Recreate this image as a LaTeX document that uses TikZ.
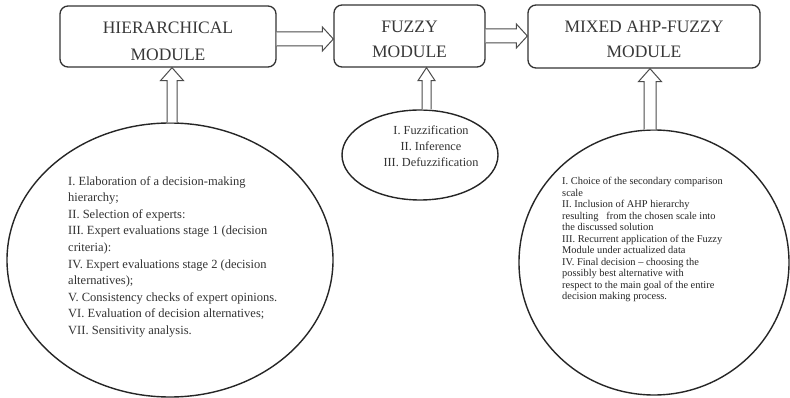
\documentclass[tikz,border=0pt]{standalone}
\usepackage{fontspec}
\setmainfont{Liberation Serif}
\usetikzlibrary{shapes.geometric,calc}
\begin{document}
\begin{tikzpicture}[x=1pt,y=1pt,
  modbox/.style={draw=black!80,line width=1.3pt,rounded corners=8pt,inner sep=0pt},
  modtext/.style={align=center,inner sep=0pt,text=black!78,font=\fontsize{17.5}{25}\selectfont},
  oval/.style={draw=black!85,line width=1.4pt,ellipse,inner sep=0pt},
  barrow/.style={draw=black!70,line width=1pt,fill=white,line join=miter},
  bigtext/.style={align=left,inner sep=0pt,text=black!80,font=\fontsize{12.5}{16.6}\selectfont},
  midtext/.style={align=center,inner sep=0pt,text=black!80,font=\fontsize{12.3}{16}\selectfont},
  smalltext/.style={align=left,inner sep=0pt,text=black!85,font=\fontsize{10.4}{11.5}\selectfont}]
\useasboundingbox (0,0) rectangle (790,-398);
\fill[white] (0,0) rectangle (790,-398);

% module boxes
\node[modbox,minimum width=216pt,minimum height=61pt] (h) at (168,-36.5) {};
\node[modbox,minimum width=151pt,minimum height=62pt] (f) at (409.5,-36) {};
\node[modbox,minimum width=232pt,minimum height=63pt] (m) at (644,-36.5) {};
\node[modtext,anchor=base,font=\fontsize{17.5}{26.5}\selectfont] (hl) at (168,-60.5) {HIERARCHICAL\\MODULE};
\node[modtext,anchor=base] (fl) at (409.5,-57.8) {FUZZY\\MODULE};
\node[modtext,anchor=base] (ml) at (644,-57.8) {MIXED AHP-FUZZY\\MODULE};

% ellipses
\node[oval,minimum width=326pt,minimum height=274pt] (e1) at (170,-260) {};
\node[oval,minimum width=156pt,minimum height=90pt] (e2) at (420,-155) {};
\node[oval,minimum width=270pt,minimum height=265pt] (e3) at (654,-262.5) {};

% ellipse texts (base anchor = baseline of the last line)
\node[bigtext,anchor=base west] (t1) at (68,-334.5) {I. Elaboration of a decision-making\\
hierarchy;\\
II. Selection of experts:\\
III. Expert evaluations stage 1 (decision\\
criteria):\\
IV. Expert evaluations stage 2 (decision\\
alternatives);\\
V. Consistency checks of expert opinions.\\
VI. Evaluation of decision alternatives;\\
VII. Sensitivity analysis.};
\node[midtext,anchor=base] (t2) at (431,-167) {I. Fuzzification\\II. Inference\\III. Defuzzification};
\node[smalltext,anchor=base west] (t3) at (562,-299.5) {I. Choice of the secondary comparison\\
scale\\
II. Inclusion of AHP hierarchy\\
resulting \ \ from the chosen scale into\\
the discussed solution\\
III. Recurrent application of the Fuzzy\\
Module under actualized data\\
IV. Final decision -- choosing the\\
possibly best alternative with\\
respect to the main goal of the entire\\
decision making process.};

% horizontal block arrows
\draw[barrow] let \p1=(h.east), \p2=(f.west) in
  (\x1,-32) -- (\x2-11,-32) -- (\x2-11,-27) -- (\x2,-39) -- (\x2-11,-51) -- (\x2-11,-46) -- (\x1,-46);
\draw[barrow] let \p1=(f.east), \p2=(m.west) in
  (\x1,-29) -- (\x2-11,-29) -- (\x2-11,-24) -- (\x2,-36) -- (\x2-11,-48) -- (\x2-11,-43) -- (\x1,-43);

% vertical block arrows
\draw[barrow] let \p1=(e1.north), \p2=(h.south) in
  (167,\y1) -- (167,\y2-13) -- (160.5,\y2-13) -- (172,\y2) -- (183.5,\y2-13) -- (177,\y2-13) -- (177,\y1);
\draw[barrow] let \p1=(e2.north), \p2=(f.south) in
  (422,\y1) -- (422,\y2-13) -- (418,\y2-13) -- (426.5,\y2) -- (435,\y2-13) -- (431,\y2-13) -- (431,\y1);
\draw[barrow] let \p1=(e3.north), \p2=(m.south) in
  (644,\y1) -- (644,\y2-13) -- (638.5,\y2-13) -- (650,\y2) -- (661.5,\y2-13) -- (656,\y2-13) -- (656,\y1);
\end{tikzpicture}
\end{document}
